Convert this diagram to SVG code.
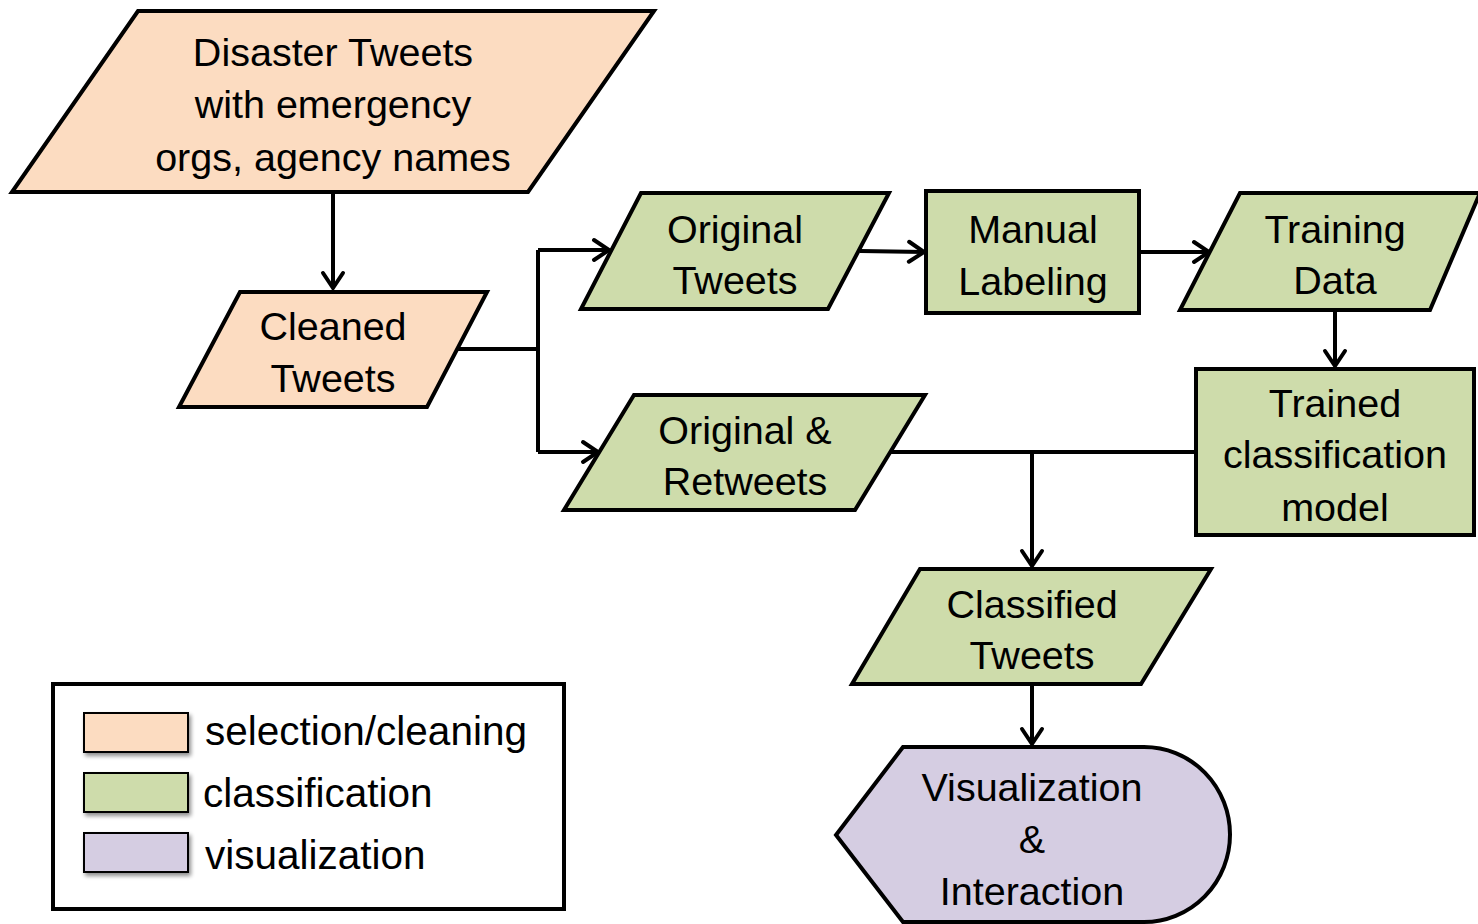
<svg xmlns="http://www.w3.org/2000/svg" width="1478" height="924" viewBox="0 0 1478 924">
<style>
.sh{stroke:#000;stroke-width:4;stroke-linejoin:miter}
.o{fill:#FCDCC1}
.g{fill:#CEDCAB}
.p{fill:#D5CDE2}
.t{font-family:"Liberation Sans",Arial,sans-serif;font-size:39.5px;fill:#000;text-anchor:middle}
.lt{font-family:"Liberation Sans",Arial,sans-serif;font-size:40.5px;fill:#000}
.c{fill:none;stroke:#000;stroke-width:4}
</style>
<defs>
<marker id="arr" viewBox="-20 -14 24 28" markerWidth="24" markerHeight="28" refX="0" refY="0" orient="auto" markerUnits="userSpaceOnUse">
<path d="M-15,-10 L0,0 L-15,10" fill="none" stroke="#000" stroke-width="4" stroke-linecap="round" stroke-linejoin="miter"/>
</marker>
<filter id="shadow" x="-20%" y="-20%" width="150%" height="160%">
<feGaussianBlur in="SourceAlpha" stdDeviation="2"/>
<feOffset dx="2" dy="3" result="b"/>
<feComponentTransfer><feFuncA type="linear" slope="0.45"/></feComponentTransfer>
<feMerge><feMergeNode/><feMergeNode in="SourceGraphic"/></feMerge>
</filter>
</defs>

<g id="connectors">
<path class="c" d="M333,192 L333,288" marker-end="url(#arr)"/>
<path class="c" d="M458,349 L538,349"/>
<path class="c" d="M538,250 L538,452"/>
<path class="c" d="M538,250 L609,250" marker-end="url(#arr)"/>
<path class="c" d="M538,452 L598,452" marker-end="url(#arr)"/>
<path class="c" d="M860,251 L924,252" marker-end="url(#arr)"/>
<path class="c" d="M1139,252 L1209,252" marker-end="url(#arr)"/>
<path class="c" d="M1335,310 L1335,366" marker-end="url(#arr)"/>
<path class="c" d="M888,452 L1196,452"/>
<path class="c" d="M1032,452 L1032,566" marker-end="url(#arr)"/>
<path class="c" d="M1032,684 L1032,744" marker-end="url(#arr)"/>
</g>

<g id="disaster-tweets">
<polygon class="sh o" points="138,11 654,11 528,192 12,192"/>
<text class="t" x="333" y="66">Disaster Tweets</text>
<text class="t" x="333" y="118">with emergency</text>
<text class="t" x="333" y="171">orgs, agency names</text>
</g>

<g id="cleaned-tweets">
<polygon class="sh o" points="240,292 487,292 427,407 179,407"/>
<text class="t" x="333" y="340">Cleaned</text>
<text class="t" x="333" y="392">Tweets</text>
</g>

<g id="original-tweets">
<polygon class="sh g" points="641,193 889,193 828,309 581,309"/>
<text class="t" x="735" y="243">Original</text>
<text class="t" x="735" y="294">Tweets</text>
</g>

<g id="original-retweets">
<polygon class="sh g" points="634,395 925,395 855,510 564,510"/>
<text class="t" x="745" y="444">Original &amp;</text>
<text class="t" x="745" y="495">Retweets</text>
</g>

<g id="manual-labeling">
<rect class="sh g" x="926" y="191" width="213" height="122"/>
<text class="t" x="1033" y="243">Manual</text>
<text class="t" x="1033" y="295">Labeling</text>
</g>

<g id="training-data">
<polygon class="sh g" points="1240,193 1480,193 1430,310 1180,310"/>
<text class="t" x="1335" y="243">Training</text>
<text class="t" x="1335" y="294">Data</text>
</g>

<g id="trained-model">
<rect class="sh g" x="1196" y="369" width="278" height="166"/>
<text class="t" x="1335" y="417">Trained</text>
<text class="t" x="1335" y="468">classification</text>
<text class="t" x="1335" y="521">model</text>
</g>

<g id="classified-tweets">
<polygon class="sh g" points="920,569 1211,569 1141,684 852,684"/>
<text class="t" x="1032" y="618">Classified</text>
<text class="t" x="1032" y="669">Tweets</text>
</g>

<g id="visualization">
<path class="sh p" d="M903,747 L1144,747 A86,87.5 0 0 1 1144,922 L903,922 L836,835 Z"/>
<text class="t" x="1032" y="801">Visualization</text>
<text class="t" x="1032" y="853">&amp;</text>
<text class="t" x="1032" y="905">Interaction</text>
</g>

<g id="legend">
<rect x="53" y="684" width="511" height="225" fill="#fff" stroke="#000" stroke-width="4"/>
<rect x="84" y="713" width="104" height="39" class="o" stroke="#000" stroke-width="2" filter="url(#shadow)"/>
<rect x="84" y="773" width="104" height="39" class="g" stroke="#000" stroke-width="2" filter="url(#shadow)"/>
<rect x="84" y="833" width="104" height="39" class="p" stroke="#000" stroke-width="2" filter="url(#shadow)"/>
<text class="lt" x="205" y="745">selection/cleaning</text>
<text class="lt" x="203" y="807">classification</text>
<text class="lt" x="205" y="869">visualization</text>
</g>
</svg>
